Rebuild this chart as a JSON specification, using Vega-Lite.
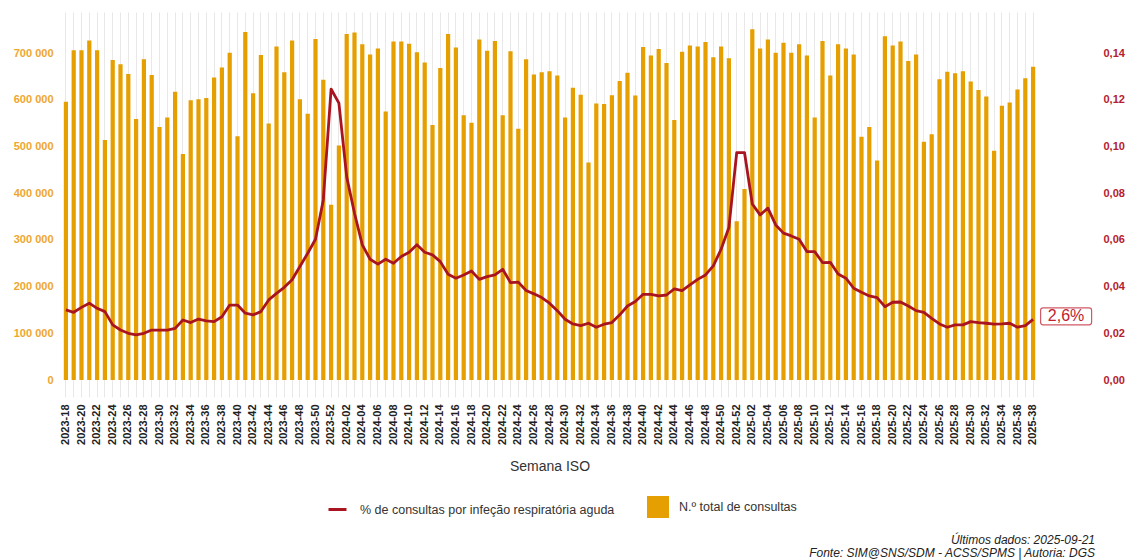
{
  "$schema": "https://vega.github.io/schema/vega-lite/v6.json",
  "autosize": {"type": "none"},
  "width": 975,
  "height": 385,
  "padding": {"left": 62, "top": 12, "right": 94, "bottom": 163},
  "config": {
    "view": {"stroke": null},
    "font": "Liberation Sans",
    "locale": {"number": {"decimal": ",", "thousands": " ", "grouping": [3], "currency": ["", " €"]}}
  },
  "title": {
    "text": ["Últimos dados: 2025-09-21", "Fonte: SIM@SNS/SDM - ACSS/SPMS | Autoria: DGS"],
    "orient": "bottom",
    "anchor": "end",
    "frame": "group",
    "fontSize": 12,
    "fontStyle": "italic",
    "fontWeight": "normal",
    "color": "#222222",
    "lineHeight": 13,
    "dx": 58,
    "dy": -46,
    "offset": 63
  },
  "data": {"values": [
    {"week":"2023-18","consultas":596000,"pct":0.0300},
    {"week":"2023-19","consultas":706000,"pct":0.0290},
    {"week":"2023-20","consultas":706000,"pct":0.0311},
    {"week":"2023-21","consultas":727000,"pct":0.0329},
    {"week":"2023-22","consultas":706000,"pct":0.0307},
    {"week":"2023-23","consultas":514000,"pct":0.0293},
    {"week":"2023-24","consultas":685000,"pct":0.0236},
    {"week":"2023-25","consultas":676000,"pct":0.0214},
    {"week":"2023-26","consultas":655000,"pct":0.0200},
    {"week":"2023-27","consultas":559000,"pct":0.0193},
    {"week":"2023-28","consultas":687000,"pct":0.0200},
    {"week":"2023-29","consultas":653000,"pct":0.0214},
    {"week":"2023-30","consultas":542000,"pct":0.0214},
    {"week":"2023-31","consultas":562000,"pct":0.0214},
    {"week":"2023-32","consultas":617000,"pct":0.0221},
    {"week":"2023-33","consultas":484000,"pct":0.0257},
    {"week":"2023-34","consultas":599000,"pct":0.0246},
    {"week":"2023-35","consultas":601000,"pct":0.0261},
    {"week":"2023-36","consultas":604000,"pct":0.0253},
    {"week":"2023-37","consultas":648000,"pct":0.0250},
    {"week":"2023-38","consultas":669000,"pct":0.0271},
    {"week":"2023-39","consultas":701000,"pct":0.0321},
    {"week":"2023-40","consultas":522000,"pct":0.0321},
    {"week":"2023-41","consultas":745000,"pct":0.0286},
    {"week":"2023-42","consultas":614000,"pct":0.0279},
    {"week":"2023-43","consultas":696000,"pct":0.0293},
    {"week":"2023-44","consultas":549000,"pct":0.0343},
    {"week":"2023-45","consultas":714000,"pct":0.0371},
    {"week":"2023-46","consultas":659000,"pct":0.0397},
    {"week":"2023-47","consultas":727000,"pct":0.0429},
    {"week":"2023-48","consultas":601000,"pct":0.0486},
    {"week":"2023-49","consultas":570000,"pct":0.0543},
    {"week":"2023-50","consultas":730000,"pct":0.0603},
    {"week":"2023-51","consultas":643000,"pct":0.0771},
    {"week":"2023-52","consultas":375000,"pct":0.1246},
    {"week":"2024-01","consultas":502000,"pct":0.1186},
    {"week":"2024-02","consultas":741000,"pct":0.0870},
    {"week":"2024-03","consultas":744000,"pct":0.0714},
    {"week":"2024-04","consultas":719000,"pct":0.0579},
    {"week":"2024-05","consultas":697000,"pct":0.0517},
    {"week":"2024-06","consultas":710000,"pct":0.0496},
    {"week":"2024-07","consultas":575000,"pct":0.0517},
    {"week":"2024-08","consultas":725000,"pct":0.0500},
    {"week":"2024-09","consultas":725000,"pct":0.0529},
    {"week":"2024-10","consultas":720000,"pct":0.0547},
    {"week":"2024-11","consultas":702000,"pct":0.0579},
    {"week":"2024-12","consultas":680000,"pct":0.0547},
    {"week":"2024-13","consultas":546000,"pct":0.0536},
    {"week":"2024-14","consultas":668000,"pct":0.0507},
    {"week":"2024-15","consultas":741000,"pct":0.0453},
    {"week":"2024-16","consultas":712000,"pct":0.0436},
    {"week":"2024-17","consultas":567000,"pct":0.0450},
    {"week":"2024-18","consultas":551000,"pct":0.0467},
    {"week":"2024-19","consultas":729000,"pct":0.0431},
    {"week":"2024-20","consultas":705000,"pct":0.0443},
    {"week":"2024-21","consultas":726000,"pct":0.0450},
    {"week":"2024-22","consultas":567000,"pct":0.0474},
    {"week":"2024-23","consultas":704000,"pct":0.0417},
    {"week":"2024-24","consultas":538000,"pct":0.0419},
    {"week":"2024-25","consultas":687000,"pct":0.0383},
    {"week":"2024-26","consultas":654000,"pct":0.0369},
    {"week":"2024-27","consultas":659000,"pct":0.0353},
    {"week":"2024-28","consultas":661000,"pct":0.0329},
    {"week":"2024-29","consultas":652000,"pct":0.0297},
    {"week":"2024-30","consultas":562000,"pct":0.0260},
    {"week":"2024-31","consultas":626000,"pct":0.0240},
    {"week":"2024-32","consultas":611000,"pct":0.0233},
    {"week":"2024-33","consultas":466000,"pct":0.0243},
    {"week":"2024-34","consultas":592000,"pct":0.0226},
    {"week":"2024-35","consultas":591000,"pct":0.0239},
    {"week":"2024-36","consultas":610000,"pct":0.0246},
    {"week":"2024-37","consultas":640000,"pct":0.0279},
    {"week":"2024-38","consultas":658000,"pct":0.0317},
    {"week":"2024-39","consultas":609000,"pct":0.0336},
    {"week":"2024-40","consultas":713000,"pct":0.0367},
    {"week":"2024-41","consultas":695000,"pct":0.0367},
    {"week":"2024-42","consultas":709000,"pct":0.0360},
    {"week":"2024-43","consultas":679000,"pct":0.0364},
    {"week":"2024-44","consultas":557000,"pct":0.0390},
    {"week":"2024-45","consultas":703000,"pct":0.0383},
    {"week":"2024-46","consultas":716000,"pct":0.0407},
    {"week":"2024-47","consultas":714000,"pct":0.0431},
    {"week":"2024-48","consultas":724000,"pct":0.0450},
    {"week":"2024-49","consultas":691000,"pct":0.0489},
    {"week":"2024-50","consultas":714000,"pct":0.0560},
    {"week":"2024-51","consultas":689000,"pct":0.0653},
    {"week":"2024-52","consultas":340000,"pct":0.0974},
    {"week":"2025-01","consultas":409000,"pct":0.0974},
    {"week":"2025-02","consultas":751000,"pct":0.0754},
    {"week":"2025-03","consultas":710000,"pct":0.0707},
    {"week":"2025-04","consultas":729000,"pct":0.0736},
    {"week":"2025-05","consultas":701000,"pct":0.0664},
    {"week":"2025-06","consultas":722000,"pct":0.0629},
    {"week":"2025-07","consultas":701000,"pct":0.0617},
    {"week":"2025-08","consultas":719000,"pct":0.0603},
    {"week":"2025-09","consultas":695000,"pct":0.0550},
    {"week":"2025-10","consultas":562000,"pct":0.0550},
    {"week":"2025-11","consultas":726000,"pct":0.0503},
    {"week":"2025-12","consultas":652000,"pct":0.0504},
    {"week":"2025-13","consultas":719000,"pct":0.0454},
    {"week":"2025-14","consultas":710000,"pct":0.0436},
    {"week":"2025-15","consultas":697000,"pct":0.0393},
    {"week":"2025-16","consultas":521000,"pct":0.0376},
    {"week":"2025-17","consultas":542000,"pct":0.0360},
    {"week":"2025-18","consultas":470000,"pct":0.0353},
    {"week":"2025-19","consultas":736000,"pct":0.0314},
    {"week":"2025-20","consultas":716000,"pct":0.0333},
    {"week":"2025-21","consultas":725000,"pct":0.0334},
    {"week":"2025-22","consultas":683000,"pct":0.0317},
    {"week":"2025-23","consultas":697000,"pct":0.0297},
    {"week":"2025-24","consultas":510000,"pct":0.0290},
    {"week":"2025-25","consultas":526000,"pct":0.0264},
    {"week":"2025-26","consultas":644000,"pct":0.0240},
    {"week":"2025-27","consultas":660000,"pct":0.0226},
    {"week":"2025-28","consultas":657000,"pct":0.0236},
    {"week":"2025-29","consultas":661000,"pct":0.0236},
    {"week":"2025-30","consultas":639000,"pct":0.0250},
    {"week":"2025-31","consultas":621000,"pct":0.0246},
    {"week":"2025-32","consultas":607000,"pct":0.0243},
    {"week":"2025-33","consultas":491000,"pct":0.0239},
    {"week":"2025-34","consultas":587000,"pct":0.0240},
    {"week":"2025-35","consultas":594000,"pct":0.0243},
    {"week":"2025-36","consultas":622000,"pct":0.0226},
    {"week":"2025-37","consultas":646000,"pct":0.0233},
    {"week":"2025-38","consultas":671000,"pct":0.0260}
  ]},
  "encoding": {
    "x": {
      "field": "week",
      "type": "ordinal",
      "sort": null,
      "scale": {"paddingInner": 0.46, "paddingOuter": 0.23},
      "axis": {
        "title": "Semana ISO",
        "titleFontSize": 14,
        "titleFontWeight": "normal",
        "titleColor": "#333333",
        "titlePadding": 15,
        "labelAngle": 270,
        "labelFontSize": 11,
        "labelFontWeight": "bold",
        "labelColor": "#222222",
        "labelPadding": 7,
        "labelExpr": "parseInt(substring(datum.label, 5, 7)) % 2 == 0 ? datum.label : ''",
        "labelOverlap": false,
        "ticks": false,
        "domain": false,
        "grid": true,
        "gridColor": "#e8e8e8",
        "gridWidth": 1
      }
    }
  },
  "layer": [
    {
      "mark": {"type": "bar"},
      "encoding": {
        "y": {
          "field": "consultas",
          "type": "quantitative",
          "scale": {"domain": [-36400, 788000], "nice": false, "zero": false},
          "axis": {
            "title": null,
            "values": [0, 100000, 200000, 300000, 400000, 500000, 600000, 700000],
            "format": ",d",
            "labelFontSize": 11,
            "labelFontWeight": "bold",
            "labelColor": "#EEA630",
            "labelPadding": 9,
            "ticks": false,
            "domain": false,
            "grid": false
          }
        },
        "fill": {
          "datum": "N.º total de consultas",
          "scale": {"domain": ["N.º total de consultas"], "range": ["#E69F00"]},
          "legend": {
            "title": null,
            "orient": "none",
            "legendX": 585,
            "legendY": 484,
            "symbolType": "square",
            "symbolSize": 484,
            "symbolStrokeWidth": 0,
            "labelFontSize": 12.5,
            "labelColor": "#333333",
            "labelOffset": 10,
            "labelLimit": 0,
            "padding": 0
          }
        }
      }
    },
    {
      "layer": [
        {
          "mark": {"type": "line", "strokeWidth": 2.8, "strokeJoin": "round"},
          "encoding": {
            "y": {
              "field": "pct",
              "type": "quantitative",
              "scale": {"domain": [-0.00728, 0.1576], "nice": false, "zero": false},
              "axis": {
                "title": null,
                "orient": "right",
                "values": [0, 0.02, 0.04, 0.06, 0.08, 0.1, 0.12, 0.14],
                "format": ".2f",
                "labelFontSize": 11,
                "labelFontWeight": "bold",
                "labelColor": "#B5202E",
                "labelPadding": 66,
                "ticks": false,
                "domain": false,
                "grid": false
              }
            },
            "stroke": {
              "datum": "% de consultas por infeção respiratória aguda",
              "scale": {"domain": ["% de consultas por infeção respiratória aguda"], "range": ["#A8141F"]},
              "legend": {
                "title": null,
                "orient": "none",
                "legendX": 265,
                "legendY": 487,
                "symbolType": "stroke",
                "symbolSize": 324,
                "symbolStrokeWidth": 3,
                "labelFontSize": 12.5,
                "labelColor": "#333333",
                "labelOffset": 12,
                "labelLimit": 0,
                "padding": 0
              }
            }
          }
        },
        {
          "transform": [{"filter": "datum.week == '2025-38'"}],
          "mark": {
            "type": "point",
            "shape": "M-0.9,-0.333 L0.9,-0.333 A0.1,0.1 0 0 1 1,-0.233 L1,0.233 A0.1,0.1 0 0 1 0.9,0.333 L-0.9,0.333 A0.1,0.1 0 0 1 -1,0.233 L-1,-0.233 A0.1,0.1 0 0 1 -0.9,-0.333 Z",
            "size": 2601,
            "filled": true,
            "fill": "#ffffff",
            "fillOpacity": 1,
            "opacity": 1,
            "stroke": "#D05A66",
            "strokeWidth": 1.2,
            "xOffset": 33,
            "yOffset": -3
          },
          "encoding": {
            "y": {"field": "pct", "type": "quantitative"}
          }
        },
        {
          "transform": [{"filter": "datum.week == '2025-38'"}],
          "mark": {
            "type": "text",
            "dx": 33,
            "dy": -3,
            "fontSize": 16,
            "color": "#C0222E",
            "align": "center",
            "baseline": "middle"
          },
          "encoding": {
            "y": {"field": "pct", "type": "quantitative"},
            "text": {"value": "2,6%"}
          }
        }
      ]
    }
  ],
  "resolve": {"scale": {"y": "independent", "fill": "independent", "stroke": "independent"}}
}
